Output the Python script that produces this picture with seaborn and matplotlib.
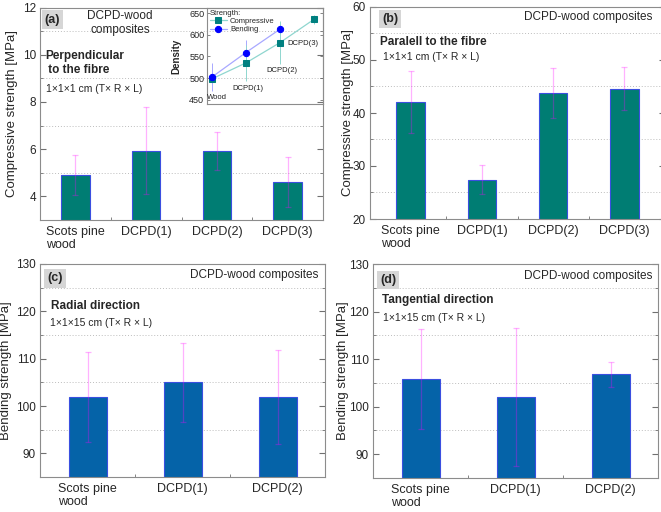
import matplotlib
matplotlib.use("Agg")
import matplotlib.pyplot as plt
import seaborn as sns
import pandas as pd
from matplotlib.ticker import MultipleLocator, FixedLocator, NullFormatter

# ---------------- data ----------------
cats4 = ["Scots pine\nwood", "DCPD(1)", "DCPD(2)", "DCPD(3)"]
cats3 = ["Scots pine\nwood", "DCPD(1)", "DCPD(2)"]

comp_perp = [4.92, 5.94, 5.92, 4.60]
comp_perp_err = [0.85, 1.83, 0.80, 1.05]

comp_par = [42.1, 27.4, 43.8, 44.6]
comp_par_err = [5.8, 2.75, 4.7, 4.05]

bend_rad = [101.9, 105.0, 101.9]
bend_rad_err = [9.5, 8.4, 10.0]

bend_tan = [105.8, 102.1, 106.8]
bend_tan_err = [10.5, 14.5, 2.6]

dens_labels = ["Wood", "DCPD(1)", "DCPD(2)", "DCPD(3)"]
dens_comp = [498, 535, 582, 636]
dens_comp_err = [8, 42, 49, 10]
dens_bend = [502, 559, 613]
dens_bend_err = [32, 30, 15]

# ---------------- style ----------------
sns.set_theme(style="white")
plt.rcParams["font.family"] = ["Liberation Sans", "DejaVu Sans"]
plt.rcParams["mathtext.fontset"] = "custom"

TEAL = "#007d73"
BLUE = "#0563a8"
EDGE = "#3a4fe0"
SPINE = "#8c8c8c"

W, H = 661, 512
fig = plt.figure(figsize=(W / 100, H / 100), dpi=100)


def px_axes(l, t, r, b):
    return fig.add_axes([l / W, 1 - b / H, (r - l) / W, (b - t) / H])


def ftext(x, y, s, **kw):
    return fig.text(x / W, 1 - y / H, s, **kw)


def style(ax, ylim, major, minor, n):
    ax.set_ylim(*ylim)
    ax.set_xlim(-0.5, n - 0.5)
    ax.yaxis.set_major_locator(MultipleLocator(major))
    ax.yaxis.set_minor_locator(MultipleLocator(minor))
    ax.xaxis.set_minor_locator(FixedLocator([i + 0.5 for i in range(n - 1)]))
    ax.tick_params(which="both", direction="in", color="#707070",
                   left=True, right=True, bottom=True, top=False)
    ax.tick_params(which="major", length=4, width=0.8)
    ax.tick_params(which="minor", length=2.5, width=0.6)
    ax.tick_params(axis="y", labelsize=8.5, pad=3)
    ax.tick_params(axis="x", labelsize=9, pad=4)
    ax.grid(False)
    ax.yaxis.grid(True, which="minor", linestyle=(0, (1, 2)), color="#bdbdbd", lw=0.7)
    ax.set_axisbelow(True)
    for s in ax.spines.values():
        s.set_color(SPINE)
        s.set_linewidth(0.8)
        s.set_visible(True)
    for lbl in ax.get_xticklabels():
        lbl.set_multialignment("left")
    ax.set_xlabel("")


def bars(ax, cats, vals, errs, color):
    df = pd.DataFrame({"cat": cats, "val": vals})
    sns.barplot(data=df, x="cat", y="val", ax=ax, color=color, saturation=1,
                width=0.4, edgecolor=EDGE, linewidth=0.8)
    ax.errorbar(range(len(cats)), vals, yerr=errs, fmt="none",
                ecolor="magenta", alpha=0.3, elinewidth=0.9, capsize=2, capthick=0.9)


# ---------------- panel (a) ----------------
axa = px_axes(40, 7.5, 323, 220)
bars(axa, cats4, comp_perp, comp_perp_err, TEAL)
style(axa, (3, 12), 2, 1, 4)
axa.set_ylabel("Compressive strength [MPa]", fontsize=9.5)
axa.yaxis.set_label_coords(-0.077, 0.5)

# ---------------- panel (b) ----------------
axb = px_axes(370, 7, 665, 219)
bars(axb, cats4, comp_par, comp_par_err, TEAL)
style(axb, (20, 60), 10, 5, 4)
axb.set_xlim(-0.57, 3.57)
axb.set_ylabel("Compressive strength [MPa]", fontsize=9.5)
axb.yaxis.set_label_coords(-0.054, 0.5)

# ---------------- panel (c) ----------------
axc = px_axes(40, 264, 325, 477)
bars(axc, cats3, bend_rad, bend_rad_err, BLUE)
style(axc, (85, 130), 10, 5, 3)
axc.set_ylabel("Bending strength [MPa]", fontsize=9.5)
axc.yaxis.set_label_coords(-0.097, 0.5)

# ---------------- panel (d) ----------------
axd = px_axes(373, 264, 658, 478)
bars(axd, cats3, bend_tan, bend_tan_err, BLUE)
style(axd, (85, 130), 10, 5, 3)
axd.set_ylabel("Bending strength [MPa]", fontsize=9.5)
axd.yaxis.set_label_coords(-0.084, 0.5)

# ---------------- inset (density) ----------------
axi = px_axes(207, 8, 323, 104)
axi.patch.set_alpha(0)
xc = list(range(len(dens_comp)))
xb = list(range(len(dens_bend)))
axi.errorbar(xb, dens_bend, yerr=dens_bend_err, fmt="none", ecolor="#a8a8ff", elinewidth=0.7)
axi.errorbar(xc, dens_comp, yerr=dens_comp_err, fmt="none", ecolor="#8fd6cf", elinewidth=0.7)
sns.lineplot(x=xc, y=dens_comp, ax=axi, color="#8fd6cf", lw=0.9, marker="s",
             markersize=4, markerfacecolor="#008080", markeredgecolor="#008080",
             label="Compressive")
sns.lineplot(x=xb, y=dens_bend, ax=axi, color="#a8a8ff", lw=0.9, marker="o",
             markersize=4.5, markerfacecolor="#0000ff", markeredgecolor="#0000ff",
             label="Bending")
axi.set_xlim(-0.14, 3.26)
axi.set_ylim(440, 662)
axi.yaxis.set_major_locator(MultipleLocator(50))
axi.set_xticks([])
axi.grid(False)
axi.tick_params(axis="y", direction="in", length=2.5, width=0.6, color="#707070",
                labelsize=6.5, pad=2, left=True, right=True)
for s in axi.spines.values():
    s.set_color(SPINE)
    s.set_linewidth(0.8)
    s.set_visible(True)
axi.set_ylabel("Density", fontsize=7, fontweight="bold")
axi.yaxis.set_label_coords(-0.218, 0.5)
leg = axi.legend(title="Strength:", loc="upper left", bbox_to_anchor=(-0.02, 1.04),
                 frameon=False, fontsize=5.5, title_fontsize=5.5, handlelength=2.2,
                 handletextpad=0.4, labelspacing=0.15, borderpad=0.2, alignment="left")
ann_pos = [(-0.13, 454, "left"), (1.06, 475, "center"), (2.04, 517, "center"), (2.67, 581, "center")]
for (x, y, ha), lab in zip(ann_pos, dens_labels):
    axi.text(x, y, lab, fontsize=5.5, ha=ha, va="center", color="#202020")

# ---------------- annotations ----------------
box = dict(boxstyle="square,pad=0.25", facecolor="#d6d6d6", edgecolor="none")
ftext(52.5, 19.5, "(a)", fontsize=9, fontweight="bold", ha="center", va="center", bbox=box)
ftext(390, 19, "(b)", fontsize=9, fontweight="bold", ha="center", va="center", bbox=box)
ftext(55, 278.5, "(c)", fontsize=9, fontweight="bold", ha="center", va="center", bbox=box)
ftext(388, 280, "(d)", fontsize=9, fontweight="bold", ha="center", va="center", bbox=box)

ftext(120, 10, "DCPD-wood\ncomposites", fontsize=8.5, ha="center", va="top", multialignment="center")
ftext(652.7, 17, "DCPD-wood composites", fontsize=8.5, ha="right", va="center")
ftext(318, 275, "DCPD-wood composites", fontsize=8.5, ha="right", va="center")
ftext(652.7, 276, "DCPD-wood composites", fontsize=8.5, ha="right", va="center")

ftext(45, 50, "Perpendicular\n to the fibre", fontsize=8.5, fontweight="bold", ha="left", va="top")
ftext(45.5, 89.3, "1×1×1 cm (T× R × L)", fontsize=7.5, ha="left", va="center")
ftext(380, 42, "Paralell to the fibre", fontsize=8.5, fontweight="bold", ha="left", va="center")
ftext(383.3, 57.3, "1×1×1 cm (T× R × L)", fontsize=7.5, ha="left", va="center")
ftext(50.7, 306, "Radial direction", fontsize=8.5, fontweight="bold", ha="left", va="center")
ftext(50, 322.7, "1×1×15 cm (T× R × L)", fontsize=7.5, ha="left", va="center")
ftext(381.7, 300.3, "Tangential direction", fontsize=8.5, fontweight="bold", ha="left", va="center")
ftext(383.3, 317.7, "1×1×15 cm (T× R × L)", fontsize=7.5, ha="left", va="center")

fig.savefig("out.png", dpi=100)
